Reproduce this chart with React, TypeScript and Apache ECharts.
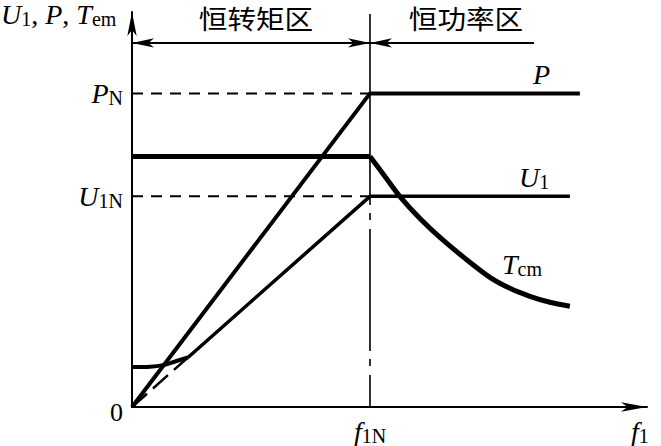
import React, { useEffect, useRef } from 'react';
import * as echarts from 'echarts';

const SERIF = 'Liberation Serif';
const CJK = 'Noto Sans CJK SC';

// axis extents (f1 along x, U1/P/Tem along y, arbitrary units)
const X_MAX = 108.2;
const Y_MAX = 99;
const F1N = 50;
const PN = 78.6;
const U1N = 52.8;
const TEM_N = 62.8;
const REGION_Y = 91.25;

// series values
const pLine = [[0, 0], [F1N, PN], [94.1, PN]];
const u1Line = [[11.76, 12.42], [F1N, U1N], [92, U1N]];
const u1Boost = [[0, 10], [3.78, 10.1], [6.51, 10.5], [9.03, 11.4], [11.76, 12.42]];
const u1Original = [[0, 0], [11.76, 12.42]];
const temFlat = [[0, TEM_N], [F1N, TEM_N]];
const temCurve = [
  [F1N, TEM_N], [53.15, 57.75], [56.3, 52.75], [60.5, 47.25], [64.7, 42.5],
  [69.96, 37.25], [75.2, 32.5], [79.4, 29.75], [83.6, 27.75], [87.8, 26.25], [92, 25.25],
];
const pnGuide = [[0, PN], [F1N, PN]];
const u1nGuide = [[0, U1N], [F1N, U1N]];
const f1nUpper = [[F1N, 98.5], [F1N, U1N]];
const f1nLower = [[F1N, 0], [F1N, U1N]];
const regionConstTorque = [[0, REGION_Y], [F1N, REGION_Y]];
const regionConstPower = [[F1N, REGION_Y], [84.45, REGION_Y]];

// tick labels
const yTickValues = [0, U1N, PN];
const yTickLabels = ['{z|0}', '{i|U}{s|1N}', '{i|P}{s|N}'];
const xTickValues = [F1N];
const xTickLabels = ['{i|f}{s|1N}'];

const rich: any = {
  i: { fontFamily: SERIF, fontStyle: 'italic', fontSize: 28, lineHeight: 30, color: '#000' },
  s: { fontFamily: SERIF, fontSize: 20, lineHeight: 20, verticalAlign: 'bottom', color: '#000' },
  r: { fontFamily: SERIF, fontSize: 28, lineHeight: 30, color: '#000' },
  z: { fontFamily: SERIF, fontSize: 26, lineHeight: 30, padding: [10, 0, 0, 0], color: '#000' },
};

function lineSeries(data: number[][], width: number, type: any = 'solid', extra: any = {}) {
  return {
    type: 'line',
    data,
    showSymbol: false,
    symbol: 'none',
    silent: true,
    clip: false,
    lineStyle: { color: '#000', width, type, ...(extra.lineStyle || {}) },
    ...extra.rest,
  };
}

function textEl(x: number, y: number, text: string, extraStyle: any = {}) {
  return {
    type: 'text',
    x,
    y,
    silent: true,
    style: {
      text,
      rich,
      fill: '#000',
      align: 'left',
      verticalAlign: 'top',
      ...extraStyle,
    },
  };
}

function regionTitle(x: number, text: string) {
  return {
    type: 'text',
    x,
    y: 18,
    scaleX: 1.1,
    silent: true,
    style: {
      text,
      fontFamily: CJK,
      fontSize: 26,
      lineHeight: 26,
      fill: '#000',
      align: 'center',
      verticalAlign: 'middle',
    },
  };
}

export default function App() {
  const ref = useRef<HTMLDivElement>(null);

  useEffect(() => {
    if (!ref.current) return;
    const chart = echarts.init(ref.current, undefined, { renderer: 'svg' });
    chart.setOption({
      animation: false,
      backgroundColor: '#fff',
      grid: { left: 132, right: 14, top: 12, bottom: 38, containLabel: false },
      xAxis: {
        type: 'value',
        min: 0,
        max: X_MAX,
        axisLine: {
          show: true,
          symbol: ['none', 'arrow'],
          symbolSize: [7, 26],
          lineStyle: { color: '#000', width: 2 },
        },
        axisTick: { show: false },
        splitLine: { show: false },
        axisLabel: {
          customValues: xTickValues,
          margin: 9,
          formatter: (v: number) => xTickLabels[xTickValues.indexOf(v)] ?? '',
          rich,
        },
      },
      yAxis: {
        type: 'value',
        min: 0,
        max: Y_MAX,
        axisLine: {
          show: true,
          symbol: ['none', 'arrow'],
          symbolSize: [7, 24],
          lineStyle: { color: '#000', width: 2 },
        },
        axisTick: { show: false },
        splitLine: { show: false },
        axisLabel: {
          customValues: yTickValues,
          margin: 9,
          formatter: (v: number) => {
            const idx = yTickValues.findIndex((t) => Math.abs(t - v) < 1e-6);
            return idx >= 0 ? yTickLabels[idx] : '';
          },
          rich,
        },
      },
      series: [
        lineSeries(pnGuide, 2, [11, 8]),
        lineSeries(u1nGuide, 2, [11, 8]),
        lineSeries(f1nUpper, 1.6),
        lineSeries(f1nLower, 1.6, [122, 9, 7, 8], { lineStyle: { dashOffset: 90 } }),
        lineSeries(u1Original, 2.5, [20, 8]),
        lineSeries(pLine, 4),
        lineSeries(u1Line, 3.5),
        lineSeries(u1Boost, 4, 'solid', { rest: { smooth: 0.3 } }),
        lineSeries(temFlat, 5),
        lineSeries(temCurve, 5, 'solid', { rest: { smooth: 0.3 } }),
        {
          type: 'line',
          data: [],
          silent: true,
          markLine: {
            silent: true,
            animation: false,
            symbol: ['arrow', 'arrow'],
            symbolSize: [7, 22],
            label: { show: false },
            lineStyle: { color: '#000', width: 2, type: 'solid' },
            data: [
              [{ coord: regionConstTorque[0] }, { coord: regionConstTorque[1] }],
              [{ coord: regionConstPower[0] }, { coord: regionConstPower[1], symbol: 'none' }],
            ],
          },
        },
      ],
      graphic: [
        textEl(1, -1, '{i|U}{s|1}{r|, }{i|P}{r|, }{i|T}{s|em}'),
        textEl(533, 59, '{i|P}'),
        textEl(519, 162, '{i|U}{s|1}'),
        textEl(502, 249, '{i|T}{s|cm}'),
        textEl(631, 416, '{i|f}{s|1}'),
        regionTitle(256, '恒转矩区'),
        regionTitle(466, '恒功率区'),
      ],
    });
    return () => chart.dispose();
  }, []);

  return (
    <div
      ref={ref}
      style={{ position: 'fixed', left: 0, top: 0, width: 661, height: 446, background: '#fff' }}
    />
  );
}
